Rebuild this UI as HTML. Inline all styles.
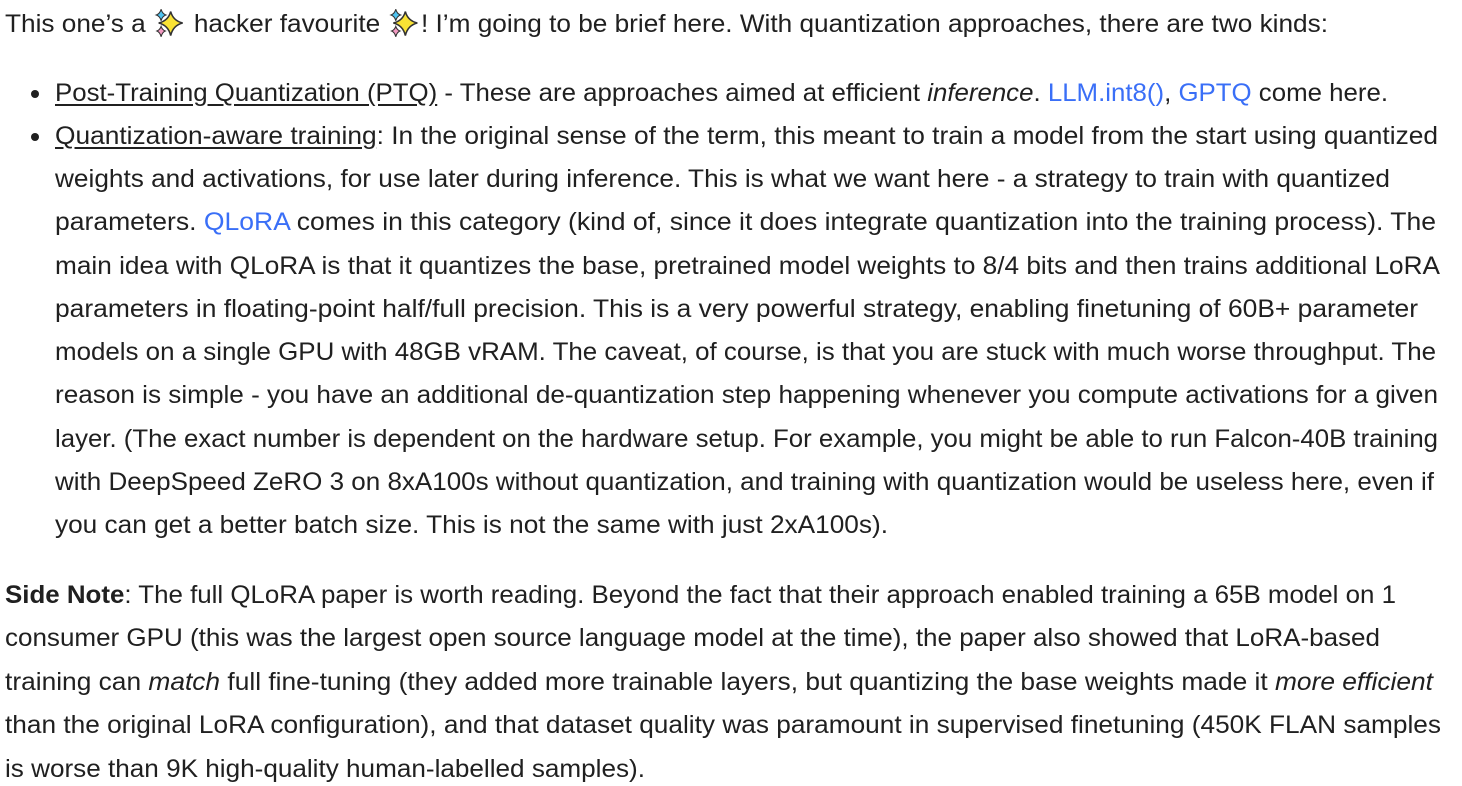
<!DOCTYPE html>
<html><head><meta charset="utf-8">
<style>
html,body{margin:0;padding:0;background:#fff;width:1462px;height:786px;overflow:hidden}
body{font-family:"Liberation Sans",sans-serif;font-size:25px;color:#202020;position:relative}
.l{position:absolute;white-space:nowrap;line-height:30px;height:30px;transform-origin:0 50%}
a{color:#3a6ff7;text-decoration:none}
u{text-decoration:underline;text-underline-offset:3px}
.dot{position:absolute;left:31px;width:8px;height:8px;border-radius:50%;background:#202020}
svg.sp{width:32px;height:32px;vertical-align:-7px}
</style></head><body>
<svg width="0" height="0" style="position:absolute"><defs>
<g id="spark"><path d="M15 4 Q17 12 25 14 Q17 16 15 25 Q13 16 5 14 Q13 12 15 4Z" fill="#f9e234" stroke="#333" stroke-width="1.3"/>
<path d="M7 2 Q8 6 11 7 Q8 8 7 12 Q6 8 3 7 Q6 6 7 2Z" fill="#4fc3f0" stroke="#333" stroke-width="0.9"/>
<path d="M7 17 Q8 20 10.5 21 Q8 22 7 26 Q6 22 3.5 21 Q6 20 7 17Z" fill="#f29ac2" stroke="#333" stroke-width="0.9"/></g></defs></svg>

<div class="l" data-w="1323" style="left:5px;top:7px">This one’s a <svg class="sp" viewBox="0 0 28 28"><use href="#spark"/></svg> hacker favourite <svg class="sp" viewBox="0 0 28 28"><use href="#spark"/></svg>! I’m going to be brief here. With quantization approaches, there are two kinds:</div>

<div class="dot" style="top:90px"></div>
<div class="l" data-w="1333" style="left:55px;top:78px"><u>Post-Training Quantization (PTQ)</u> - These are approaches aimed at efficient <i>inference</i>. <a href="#">LLM.int8()</a>, <a href="#">GPTQ</a> come here.</div>

<div class="dot" style="top:133px"></div>
<div class="l" data-w="1383" style="left:55px;top:121px"><u>Quantization-aware training</u>: In the original sense of the term, this meant to train a model from the start using quantized</div>
<div class="l" data-w="1335" style="left:55px;top:164px">weights and activations, for use later during inference. This is what we want here - a strategy to train with quantized</div>
<div class="l" data-w="1381" style="left:55px;top:207px">parameters. <a href="#">QLoRA</a> comes in this category (kind of, since it does integrate quantization into the training process). The</div>
<div class="l" data-w="1385" style="left:55px;top:251px">main idea with QLoRA is that it quantizes the base, pretrained model weights to 8/4 bits and then trains additional LoRA</div>
<div class="l" data-w="1363" style="left:55px;top:294px">parameters in floating-point half/full precision. This is a very powerful strategy, enabling finetuning of 60B+ parameter</div>
<div class="l" data-w="1381" style="left:55px;top:337px">models on a single GPU with 48GB vRAM. The caveat, of course, is that you are stuck with much worse throughput. The</div>
<div class="l" data-w="1383" style="left:55px;top:380px">reason is simple - you have an additional de-quantization step happening whenever you compute activations for a given</div>
<div class="l" data-w="1383" style="left:55px;top:424px">layer. (The exact number is dependent on the hardware setup. For example, you might be able to run Falcon-40B training</div>
<div class="l" data-w="1379" style="left:55px;top:467px">with DeepSpeed ZeRO 3 on 8xA100s without quantization, and training with quantization would be useless here, even if</div>
<div class="l" data-w="833" style="left:55px;top:510px">you can get a better batch size. This is not the same with just 2xA100s).</div>

<div class="l" data-w="1391" style="left:5px;top:580px"><b>Side Note</b>: The full QLoRA paper is worth reading. Beyond the fact that their approach enabled training a 65B model on 1</div>
<div class="l" data-w="1375" style="left:5px;top:623px">consumer GPU (this was the largest open source language model at the time), the paper also showed that LoRA-based</div>
<div class="l" data-w="1428" style="left:5px;top:667px">training can <i>match</i> full fine-tuning (they added more trainable layers, but quantizing the base weights made it <i>more efficient</i></div>
<div class="l" data-w="1436" style="left:5px;top:710px">than the original LoRA configuration), and that dataset quality was paramount in supervised finetuning (450K FLAN samples</div>
<div class="l" data-w="640" style="left:5px;top:754px">is worse than 9K high-quality human-labelled samples).</div>

<script>
document.querySelectorAll('.l').forEach(function(el){
  var w = el.getBoundingClientRect().width;
  var t = parseFloat(el.getAttribute('data-w'));
  if (w > 0) el.style.transform = 'scaleX(' + (t / w) + ')';
});
</script>
</body></html>
